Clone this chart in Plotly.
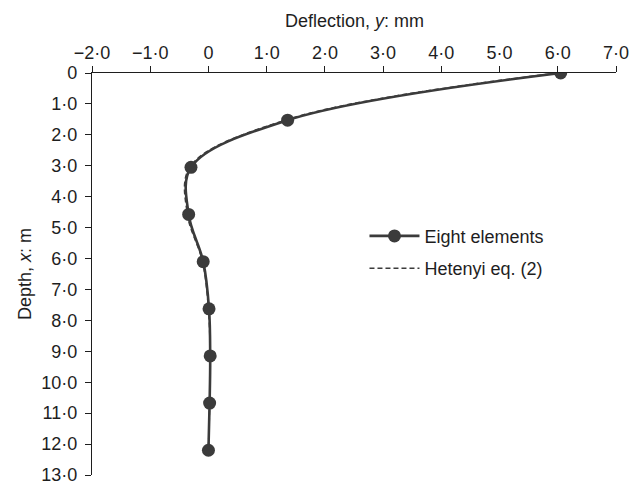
import plotly.graph_objects as go

# Pile deflection profile: nodal values of the eight-element model
depth_m = [0.0, 1.525, 3.05, 4.575, 6.1, 7.625, 9.15, 10.675, 12.2]
eight_elements_mm = [6.05, 1.36, -0.30, -0.34, -0.09, 0.01, 0.03, 0.02, 0.0]

# Closed-form (Hetenyi) solution read at the same depths
hetenyi_mm = [6.0, 1.32, -0.32, -0.36, -0.1, 0.0, 0.03, 0.02, 0.0]

x_ticks = [-2, -1, 0, 1, 2, 3, 4, 5, 6, 7]
x_tick_text = ["\u22122\u00b70", "\u22121\u00b70", "0", "1\u00b70", "2\u00b70", "3\u00b70",
               "4\u00b70", "5\u00b70", "6\u00b70", "7\u00b70"]
y_ticks = list(range(0, 14))
y_tick_text = ["0"] + [f"{v}\u00b70" for v in range(1, 14)]

ink = "#3b3b3b"
axis_ink = "#1e1e1e"
font = "Liberation Sans, Arial, sans-serif"
fs = 18

fig = go.Figure()
fig.add_trace(go.Scatter(
    x=hetenyi_mm, y=depth_m, mode="lines", name="Hetenyi eq. (2)",
    line=dict(color=ink, width=1.6, dash="5px,3px", shape="spline", smoothing=1.0),
    legendgroup="b", legendrank=2,
))
fig.add_trace(go.Scatter(
    x=eight_elements_mm, y=depth_m, mode="lines+markers", name="Eight elements",
    line=dict(color=ink, width=2.6, shape="spline", smoothing=1.0),
    marker=dict(color=ink, size=13),
    legendgroup="a", legendrank=1,
))

axis_common = dict(
    showgrid=False, zeroline=False, showline=True, linecolor=axis_ink,
    linewidth=1.3, ticks="outside", ticklen=6, tickwidth=1.3, tickcolor=axis_ink,
    tickfont=dict(size=fs, color=axis_ink), ticklabeloverflow="allow",
)

fig.update_layout(
    width=642, height=493,
    margin=dict(l=92, r=26, t=73, b=8),
    paper_bgcolor="white", plot_bgcolor="white",
    font=dict(family=font, size=fs, color=axis_ink),
    showlegend=True,
    legend=dict(x=0.52, y=0.64, xanchor="left", yanchor="top",
                bgcolor="rgba(0,0,0,0)", font=dict(size=fs, color=axis_ink),
                traceorder="grouped", tracegroupgap=6, itemwidth=50),
    xaxis=dict(side="top", range=[-2, 7], tickvals=x_ticks, ticktext=x_tick_text,
               ticklabelstandoff=0, **axis_common),
    yaxis=dict(range=[13, 0], tickvals=y_ticks, ticktext=y_tick_text,
               ticklabelstandoff=4, **axis_common),
    annotations=[
        dict(text="Deflection, <i>y</i>: mm", xref="paper", yref="paper",
             x=0.5, y=1, yshift=52, xanchor="center", yanchor="middle",
             showarrow=False, font=dict(size=fs, color=axis_ink)),
        dict(text="Depth, <i>x</i>: m", xref="paper", yref="paper",
             x=0, xshift=-67, y=0.5, textangle=-90, xanchor="center", yanchor="middle",
             showarrow=False, font=dict(size=fs, color=axis_ink)),
    ],
)

fig.write_html("out.html")
